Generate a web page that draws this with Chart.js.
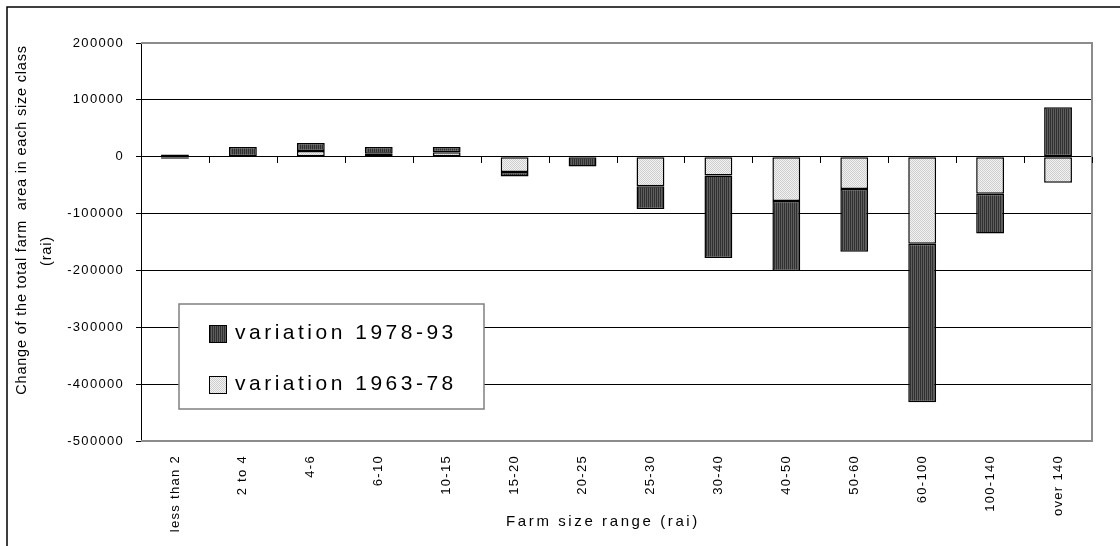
<!DOCTYPE html>
<html>
<head>
<meta charset="utf-8">
<script src="https://cdn.jsdelivr.net/npm/chart.js@4.4.1/dist/chart.umd.min.js"></script>
<style>
  html, body { margin: 0; padding: 0; background: #ffffff; }
  #wrap { width: 1120px; height: 546px; position: relative; }
</style>
</head>
<body>
<div id="wrap"><canvas id="c" width="1120" height="546"></canvas></div>
<script>
// Farm size classes (rai) and the change of total farm area in each class
const sizeClasses = ['less than 2', '2 to 4', '4-6', '6-10', '10-15', '15-20', '20-25',
  '25-30', '30-40', '40-50', '50-60', '60-100', '100-140', 'over 140'];
const variation1963to78 = [4000, 1000, 10000, 5000, 8000, -27000, -1000,
  -52000, -33000, -78000, -57000, -153000, -65000, -46000];
const variation1978to93 = [-3500, 16000, 14000, 12000, 9000, -8000, -16000,
  -40000, -145000, -123000, -110000, -279000, -70000, 87000];
const yTickValues = [200000, 100000, 0, -100000, -200000, -300000, -400000, -500000];

const FONT = "'Liberation Sans', Arial, Helvetica, sans-serif";

// Small repeating fills: vertical hatch for the dark series, fine dots for the light one
function makePattern(w, h, paint) {
  const c = document.createElement('canvas');
  c.width = w; c.height = h;
  const g = c.getContext('2d');
  paint(g);
  return g.createPattern(c, 'repeat');
}
const darkFill = makePattern(2, 2, g => {
  g.fillStyle = '#303030'; g.fillRect(0, 0, 2, 2);
  g.fillStyle = '#5e5e5e'; g.fillRect(1, 0, 1, 2);
});
const lightFill = makePattern(2, 2, g => {
  g.fillStyle = '#f3f3f3'; g.fillRect(0, 0, 2, 2);
  g.fillStyle = '#cdcdcd'; g.fillRect(0, 0, 1, 1); g.fillRect(1, 1, 1, 1);
});

function spacedText(ctx, text, x, y, spacing) {
  ctx.letterSpacing = spacing + 'px';
  ctx.fillText(text, x, y);
}

const decorations = {
  id: 'decorations',
  beforeDraw(chart) {
    chart.ctx.letterSpacing = '1.3px';
  },
  beforeDatasetsDraw(chart) {
    const { ctx, chartArea: a, scales } = chart;
    ctx.save();
    // plot frame (top, right, bottom)
    ctx.strokeStyle = '#8c8c8c';
    ctx.lineWidth = 2;
    ctx.beginPath();
    ctx.moveTo(a.left, a.top);
    ctx.lineTo(a.right, a.top);
    ctx.lineTo(a.right, a.bottom);
    ctx.lineTo(a.left, a.bottom);
    ctx.stroke();
    // category tick marks hanging under the zero line
    const y0 = Math.round(scales.y.getPixelForValue(0));
    ctx.strokeStyle = '#000';
    ctx.lineWidth = 1;
    ctx.beginPath();
    for (let k = 1; k <= sizeClasses.length; k++) {
      const x = Math.round(scales.x.getPixelForValue(k - 0.5)) + 0.5;
      ctx.moveTo(x, y0);
      ctx.lineTo(x, y0 + 6);
    }
    ctx.stroke();
    ctx.restore();
  },
  afterDraw(chart) {
    const ctx = chart.ctx;
    ctx.save();
    ctx.fillStyle = '#000';

    // outer frame
    ctx.strokeStyle = '#000';
    ctx.lineWidth = 1.5;
    ctx.beginPath();
    ctx.moveTo(7, 546);
    ctx.lineTo(7, 7);
    ctx.lineTo(1120, 7);
    ctx.stroke();

    // axis titles
    ctx.textAlign = 'center';
    ctx.textBaseline = 'middle';
    ctx.font = '15px ' + FONT;
    spacedText(ctx, 'Farm size range (rai)', 603, 522, 2.6);
    ctx.font = '14.5px ' + FONT;
    ctx.save();
    ctx.translate(22, 220);
    ctx.rotate(-Math.PI / 2);
    spacedText(ctx, 'Change of the total farm  area in each size class', 0, 0, 0.8);
    ctx.restore();
    ctx.save();
    ctx.translate(47, 251);
    ctx.rotate(-Math.PI / 2);
    spacedText(ctx, '(rai)', 0, 0, 0.8);
    ctx.restore();

    // legend box
    const box = { x: 179, y: 304, w: 305, h: 105 };
    ctx.fillStyle = '#ffffff';
    ctx.fillRect(box.x, box.y, box.w, box.h);
    ctx.strokeStyle = '#808080';
    ctx.lineWidth = 1.5;
    ctx.strokeRect(box.x, box.y, box.w, box.h);
    const items = chart.data.datasets.slice().reverse();
    ctx.font = '21px ' + FONT;
    ctx.textAlign = 'left';
    ctx.textBaseline = 'alphabetic';
    items.forEach((ds, i) => {
      const sy = 325 + i * 51;
      ctx.fillStyle = ds.backgroundColor;
      ctx.fillRect(209.5, sy + 0.5, 17, 17);
      ctx.strokeStyle = '#000';
      ctx.lineWidth = 1;
      ctx.strokeRect(209.5, sy + 0.5, 17, 17);
      ctx.fillStyle = '#000';
      spacedText(ctx, ds.label, 235, sy + 13.5, 3.5);
    });
    ctx.restore();
    ctx.letterSpacing = '0px';
  }
};

new Chart(document.getElementById('c'), {
  type: 'bar',
  data: {
    labels: sizeClasses,
    datasets: [
      { label: 'variation 1963-78', data: variation1963to78, backgroundColor: lightFill,
        borderColor: '#000', borderWidth: 1.5, borderSkipped: false },
      { label: 'variation 1978-93', data: variation1978to93, backgroundColor: darkFill,
        borderColor: '#000', borderWidth: 1.5, borderSkipped: false }
    ]
  },
  options: {
    responsive: false,
    animation: false,
    events: [],
    layout: { padding: { left: 0, right: 28, top: 43, bottom: 0 } },
    datasets: { bar: { barPercentage: 0.41, categoryPercentage: 1 } },
    plugins: { legend: { display: false }, tooltip: { enabled: false } },
    scales: {
      x: {
        stacked: true,
        offset: true,
        grid: { display: false, drawTicks: false },
        border: { display: false },
        ticks: {
          autoSkip: false, minRotation: 90, maxRotation: 90, padding: 14,
          color: '#000', font: { family: FONT, size: 13 }
        },
        afterFit: s => { s.height = 105; }
      },
      y: {
        stacked: true,
        min: -500000,
        max: 200000,
        afterBuildTicks: s => { s.ticks = yTickValues.map(v => ({ value: v })); },
        ticks: {
          padding: 12, color: '#000', font: { family: FONT, size: 13 },
          callback: v => String(v)
        },
        grid: {
          color: c => (c.tick && (c.tick.value === 200000 || c.tick.value === -500000)) ? 'rgba(0,0,0,0)' : '#000',
          lineWidth: 1,
          tickColor: '#000',
          tickLength: 5,
          drawTicks: true
        },
        border: { display: true, color: '#000', width: 1 },
        afterFit: s => { s.width = 141; }
      }
    }
  },
  plugins: [decorations]
});
</script>
</body>
</html>
